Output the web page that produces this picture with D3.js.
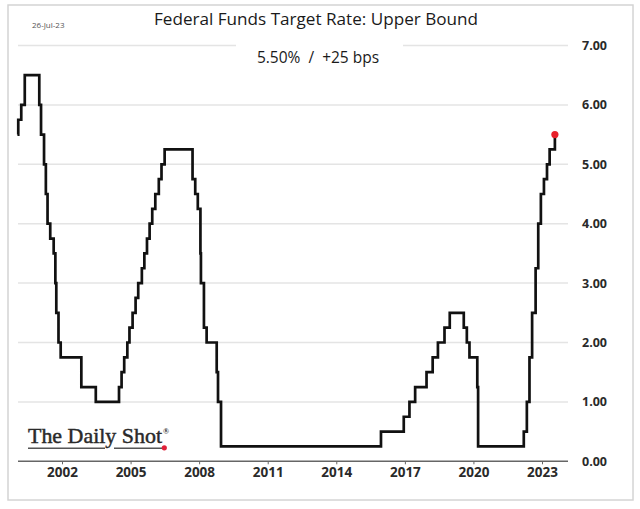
<!DOCTYPE html>
<html>
<head>
<meta charset="utf-8">
<script src="https://cdn.jsdelivr.net/npm/d3@7"></script>
<style>
  html, body { margin: 0; padding: 0; background: #fff; }
  svg { display: block; }
</style>
</head>
<body>
<svg id="chart" width="640" height="509"></svg>
<script>
// ---- data ----
const changeDates = ["2000-01-20","2000-02-02","2000-03-21","2000-05-16","2001-01-03","2001-01-31","2001-03-20","2001-04-18","2001-05-15","2001-06-27","2001-08-21","2001-09-17","2001-10-02","2001-11-06","2001-12-11","2002-11-06","2003-06-25","2004-06-30","2004-08-10","2004-09-21","2004-11-10","2004-12-14","2005-02-02","2005-03-22","2005-05-03","2005-06-30","2005-08-09","2005-09-20","2005-11-01","2005-12-13","2006-01-31","2006-03-28","2006-05-10","2006-06-29","2007-09-18","2007-10-31","2007-12-11","2008-01-22","2008-01-30","2008-03-18","2008-04-30","2008-10-08","2008-10-29","2008-12-16","2015-12-16","2016-12-14","2017-03-15","2017-06-14","2017-12-13","2018-03-21","2018-06-13","2018-09-26","2018-12-19","2019-07-31","2019-09-18","2019-10-30","2020-03-03","2020-03-16","2022-03-16","2022-05-04","2022-06-15","2022-07-27","2022-09-21","2022-11-02","2022-12-14","2023-02-01","2023-03-22","2023-05-03","2023-07-26"];
const upperBound = [5.50,5.75,6.00,6.50,6.00,5.50,5.00,4.50,4.00,3.75,3.50,3.00,2.50,2.00,1.75,1.25,1.00,1.25,1.50,1.75,2.00,2.25,2.50,2.75,3.00,3.25,3.50,3.75,4.00,4.25,4.50,4.75,5.00,5.25,4.75,4.50,4.25,3.50,3.00,2.25,2.00,1.50,1.00,0.25,0.50,0.75,1.00,1.25,1.50,1.75,2.00,2.25,2.50,2.25,2.00,1.75,1.25,0.25,0.50,1.00,1.75,2.50,3.25,4.00,4.50,4.75,5.00,5.25,5.50];
const xTickYears = [2002, 2005, 2008, 2011, 2014, 2017, 2020, 2023];
const yTickValues = [0, 1, 2, 3, 4, 5, 6, 7];
const titleText = "Federal Funds Target Rate: Upper Bound";
const subtitleText = "5.50%  /  +25 bps";
const dateText = "26-Jul-23";
const logoText = "The Daily Shot";

// ---- setup ----
const parse = d3.timeParse("%Y-%m-%d");
const data = changeDates.map((d, i) => ({ date: parse(d), value: upperBound[i] }));

const svg = d3.select("#chart");
const font = "'Open Sans', 'Noto Sans', sans-serif";

// outer frame
svg.append("rect")
  .attr("x", 8).attr("y", 5).attr("width", 625).attr("height", 495)
  .attr("fill", "#fff").attr("stroke", "#d4d4d4").attr("stroke-width", 1.5);

const x = d3.scaleTime()
  .domain([new Date(2002, 0, 1), new Date(2023, 0, 1)])
  .range([62, 542]);
const y = d3.scaleLinear().domain([0, 7]).range([461.3, 45.5]);

const plotLeft = 18, plotRight = 568;

// gridlines
svg.append("g").selectAll("line")
  .data(yTickValues.filter(v => v > 0))
  .join("line")
  .attr("x1", plotLeft).attr("x2", plotRight)
  .attr("y1", d => y(d)).attr("y2", d => y(d))
  .attr("stroke", "#e4e4e4").attr("stroke-width", 1.5);

// y axis labels (right)
const yAxis = svg.append("g")
  .attr("transform", "translate(579,0)")
  .call(d3.axisRight(y).tickValues(yTickValues).tickSize(0).tickPadding(3).tickFormat(d3.format(".2f")));
yAxis.select(".domain").remove();
yAxis.selectAll("text")
  .attr("font-family", font).attr("font-size", "12.5px").attr("font-weight", "bold")
  .attr("fill", "#2a2a2a");

// x axis
svg.append("line")
  .attr("x1", plotLeft).attr("x2", plotRight)
  .attr("y1", y(0)).attr("y2", y(0))
  .attr("stroke", "#666").attr("stroke-width", 1.5);
const xAxis = svg.append("g")
  .attr("transform", `translate(0,${y(0)})`)
  .call(d3.axisBottom(x)
    .tickValues(xTickYears.map(yr => new Date(yr, 0, 1)))
    .tickSize(3).tickPadding(2.8)
    .tickFormat(d3.timeFormat("%Y")));
xAxis.select(".domain").remove();
xAxis.selectAll(".tick line").attr("stroke", "#666").attr("stroke-width", 1);
xAxis.selectAll("text")
  .attr("font-family", font).attr("font-size", "13.5px").attr("font-weight", "bold")
  .attr("fill", "#2a2a2a");

// subtitle background (breaks the top gridline)
svg.append("rect")
  .attr("x", 236).attr("y", 38).attr("width", 167).attr("height", 30)
  .attr("fill", "#fff");

// title
svg.append("text")
  .attr("x", 316).attr("y", 25)
  .attr("text-anchor", "middle")
  .attr("font-family", font).attr("font-size", "17px")
  .attr("textLength", 324).attr("lengthAdjust", "spacingAndGlyphs")
  .attr("fill", "#1a1a1a")
  .text(titleText);

// subtitle
svg.append("text")
  .attr("x", 318).attr("y", 63)
  .attr("text-anchor", "middle")
  .attr("font-family", font).attr("font-size", "15.5px")
  .attr("fill", "#1a1a1a")
  .style("white-space", "pre")
  .text(subtitleText);

// date
svg.append("text")
  .attr("x", 32).attr("y", 28)
  .attr("font-family", font).attr("font-size", "8px")
  .attr("fill", "#555")
  .text(dateText);

// line
const line = d3.line()
  .x(d => x(d.date))
  .y(d => y(d.value))
  .curve(d3.curveStepAfter);
svg.append("path")
  .datum(data)
  .attr("d", line)
  .attr("fill", "none")
  .attr("stroke", "#111")
  .attr("stroke-width", 2.7)
  .attr("stroke-linejoin", "miter");

// last point marker
const last = data[data.length - 1];
svg.append("circle")
  .attr("cx", x(last.date)).attr("cy", y(last.value))
  .attr("r", 3.6).attr("fill", "#e8202a");

// logo
const logo = svg.append("g");
logo.append("text")
  .attr("x", 28).attr("y", 443)
  .attr("font-family", "'Liberation Serif', 'DejaVu Serif', serif")
  .attr("font-size", "21px")
  .attr("textLength", 134).attr("lengthAdjust", "spacingAndGlyphs")
  .attr("fill", "#2a2a2a").attr("stroke", "#2a2a2a").attr("stroke-width", 0.45)
  .text(logoText);
logo.append("text")
  .attr("x", 163).attr("y", 434)
  .attr("font-family", "'Liberation Serif', serif")
  .attr("font-size", "8px").attr("font-weight", "bold")
  .attr("fill", "#333")
  .text("®");
logo.append("line").attr("x1", 28).attr("x2", 105).attr("y1", 448.3).attr("y2", 448.3)
  .attr("stroke", "#555").attr("stroke-width", 1.5);
logo.append("line").attr("x1", 114).attr("x2", 162).attr("y1", 448.3).attr("y2", 448.3)
  .attr("stroke", "#555").attr("stroke-width", 1.5);
logo.append("circle").attr("cx", 164.3).attr("cy", 447.8).attr("r", 2.6).attr("fill", "#e0203a");
</script>
</body>
</html>
